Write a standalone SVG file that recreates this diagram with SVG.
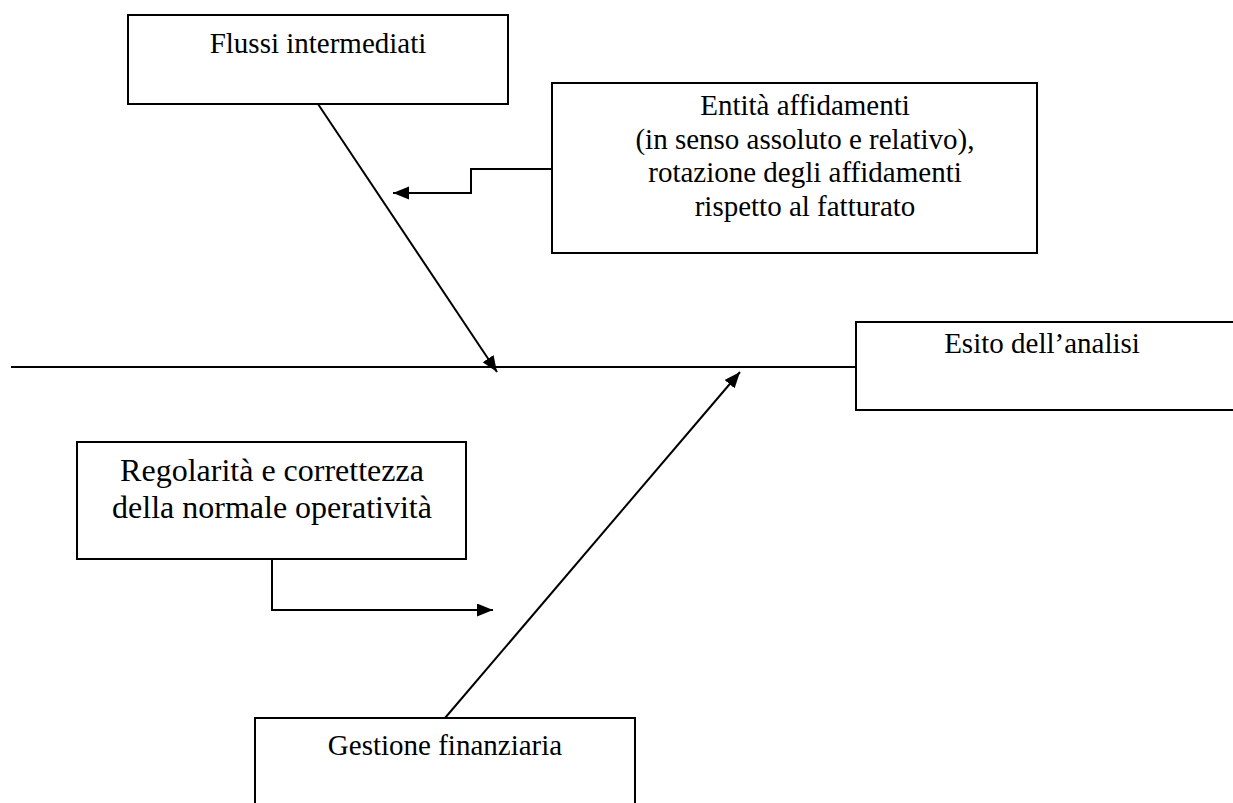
<svg xmlns="http://www.w3.org/2000/svg" width="1233" height="803" viewBox="0 0 1233 803">
<style>
.box{fill:#fff;stroke:#000;stroke-width:2}
.t{font-family:"Liberation Serif","Times New Roman",serif;font-size:29px;fill:#000;text-anchor:middle}
.big{font-size:32px}
.c{fill:none;stroke:#000;stroke-width:2}
</style>
<defs>
<marker id="ah" markerUnits="userSpaceOnUse" markerWidth="17" markerHeight="14" refX="16" refY="6.5" orient="auto">
<path d="M0,0 L16,6.5 L0,13 z" fill="#000"/>
</marker>
</defs>
<rect width="1233" height="803" fill="#fff"/>
<g id="connectors">
<line class="c" x1="11" y1="367" x2="856" y2="367"/>
<line class="c" x1="318" y1="104" x2="497" y2="372" marker-end="url(#ah)"/>
<line class="c" x1="445" y1="718" x2="740" y2="372" marker-end="url(#ah)"/>
<polyline class="c" points="552,169 471,169 471,193 393,193" marker-end="url(#ah)"/>
<polyline class="c" points="272,559 272,610 493,610" marker-end="url(#ah)"/>
</g>
<g id="flussi">
<rect class="box" x="128" y="15" width="380" height="89"/>
<text class="t" x="318" y="53">Flussi intermediati</text>
</g>
<g id="entita">
<rect class="box" x="552" y="83" width="485" height="170"/>
<text class="t" x="805" y="115">Entità affidamenti</text>
<text class="t" x="805" y="148.5">(in senso assoluto e relativo),</text>
<text class="t" x="805" y="182">rotazione degli affidamenti</text>
<text class="t" x="805" y="215.5">rispetto al fatturato</text>
</g>
<g id="esito">
<rect class="box" x="856" y="322" width="400" height="88"/>
<text class="t" x="1042" y="353">Esito dell’analisi</text>
</g>
<g id="regolarita">
<rect class="box" x="77" y="442" width="389" height="117"/>
<text class="t big" x="272" y="481">Regolarità e correttezza</text>
<text class="t big" x="272" y="518">della normale operatività</text>
</g>
<g id="gestione">
<rect class="box" x="255" y="718" width="380" height="100"/>
<text class="t" x="445" y="755">Gestione finanziaria</text>
</g>
</svg>
